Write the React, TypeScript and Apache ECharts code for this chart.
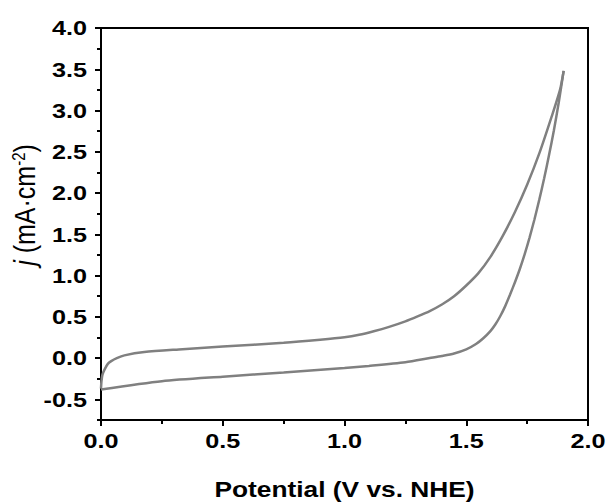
import React, { useEffect, useRef } from "react";
import * as echarts from "echarts";

// Forward (anodic) scan: potential (V vs. NHE), current density (mA·cm-2)
const forwardV = [0.0, 0.002, 0.006, 0.015, 0.028, 0.042, 0.065, 0.096, 0.178, 0.32, 0.5, 0.75, 0.9, 1.0, 1.06, 1.12, 1.18, 1.25, 1.3, 1.35, 1.4, 1.45, 1.5, 1.55, 1.6, 1.65, 1.7, 1.75, 1.8, 1.85, 1.885, 1.9];
const forwardJ = [-0.37, -0.28, -0.2, -0.137, -0.07, -0.036, 0.0, 0.033, 0.073, 0.105, 0.14, 0.185, 0.222, 0.252, 0.282, 0.325, 0.375, 0.445, 0.505, 0.57, 0.65, 0.75, 0.88, 1.03, 1.23, 1.48, 1.77, 2.1, 2.48, 2.92, 3.25, 3.48];

// Reverse (cathodic) scan
const reverseV = [1.9, 1.88, 1.86, 1.84, 1.82, 1.8, 1.78, 1.76, 1.74, 1.72, 1.7, 1.68, 1.66, 1.64, 1.62, 1.6, 1.57, 1.54, 1.5, 1.45, 1.4, 1.35, 1.25, 1.1, 1.0, 0.75, 0.5, 0.25, 0.0];
const reverseJ = [3.48, 3.1, 2.76, 2.46, 2.18, 1.92, 1.68, 1.46, 1.26, 1.08, 0.92, 0.77, 0.63, 0.51, 0.41, 0.33, 0.24, 0.17, 0.105, 0.055, 0.025, 0.0, -0.05, -0.095, -0.12, -0.175, -0.225, -0.28, -0.38];

const xTicks = [0.0, 0.5, 1.0, 1.5, 2.0];
const yMajorTicks = [-0.5, 0.0, 0.5, 1.0, 1.5, 2.0, 2.5, 3.0, 3.5, 4.0];
const yMinorTicks = [-0.75, -0.25, 0.25, 0.75, 1.25, 1.75, 2.25, 2.75, 3.25, 3.75];

const xTitle = "Potential (V vs. NHE)";

const FONT = "'Liberation Sans', Arial, Helvetica, sans-serif";
const STRETCH = 1.2;

export default function App() {
  const ref = useRef<HTMLDivElement>(null);
  useEffect(() => {
    if (!ref.current) return;
    const chart = echarts.init(ref.current, null, { renderer: "svg" });
    const pair = (xs: number[], ys: number[]) => xs.map((x, i) => [x, ys[i]]);
    const axisBlack = { color: "#000", width: 2 };
    chart.setOption({
      animation: false,
      backgroundColor: "#fff",
      grid: {
        left: 101,
        right: 20,
        top: 28,
        bottom: 83,
        show: true,
        borderColor: "#000",
        borderWidth: 2,
        backgroundColor: "transparent",
      },
      xAxis: {
        type: "value",
        min: 0,
        max: 2,
        interval: 0.5,
        axisLine: { show: true, onZero: false, lineStyle: axisBlack },
        axisTick: { show: true, inside: false, length: 6, lineStyle: axisBlack },
        minorTick: { show: true, splitNumber: 2, length: 4, lineStyle: axisBlack },
        splitLine: { show: false },
        axisLabel: { show: false },
      },
      yAxis: [
        {
          type: "value",
          min: -0.75,
          max: 4.0,
          axisLine: { show: true, onZero: false, lineStyle: axisBlack },
          axisTick: { show: true, inside: false, length: 6, customValues: yMajorTicks, lineStyle: axisBlack },
          splitLine: { show: false },
          axisLabel: { show: false },
        },
        {
          type: "value",
          min: -0.75,
          max: 4.0,
          position: "left",
          axisLine: { show: false, onZero: false },
          axisTick: { show: true, inside: false, length: 4, customValues: yMinorTicks, lineStyle: axisBlack },
          splitLine: { show: false },
          axisLabel: { show: false },
        },
      ],
      series: [
        {
          type: "line",
          data: pair(forwardV, forwardJ),
          showSymbol: false,
          smooth: 0.25,
          lineStyle: { color: "#808080", width: 2.5 },
          itemStyle: { color: "#808080" },
        },
        {
          type: "line",
          data: pair(reverseV, reverseJ),
          showSymbol: false,
          smooth: 0.25,
          lineStyle: { color: "#808080", width: 2.5 },
          itemStyle: { color: "#808080" },
        },
      ],
    });

    const tickText = (text: string, x: number, y: number, align: string) => ({
      type: "text",
      x,
      y,
      scaleX: STRETCH,
      style: {
        text,
        fontSize: 21,
        fontWeight: "bold",
        fontFamily: FONT,
        fill: "#000",
        align,
        verticalAlign: "middle",
      },
    });

    const xAxisY = chart.convertToPixel({ yAxisIndex: 0 }, -0.75) as number;
    const yAxisX = chart.convertToPixel({ xAxisIndex: 0 }, 0) as number;

    const graphics: any[] = [];
    xTicks.forEach((v) => {
      const px = chart.convertToPixel({ xAxisIndex: 0 }, v) as number;
      graphics.push(tickText(v.toFixed(1), px, xAxisY + 21, "center"));
    });
    yMajorTicks.forEach((v) => {
      const py = chart.convertToPixel({ yAxisIndex: 0 }, v) as number;
      graphics.push(tickText(v.toFixed(1), yAxisX - 14, py, "right"));
    });
    graphics.push({
      type: "text",
      x: 344.5,
      y: 489,
      scaleX: 1.17,
      style: {
        text: xTitle,
        fontSize: 22.5,
        fontWeight: "bold",
        fontFamily: FONT,
        fill: "#000",
        align: "center",
        verticalAlign: "middle",
      },
    });
    graphics.push({
      type: "text",
      x: 25,
      y: 205,
      rotation: Math.PI / 2,
      scaleY: STRETCH,
      style: {
        text: "{i|j} (mA·cm{s|-2})",
        fontSize: 25,
        fontFamily: FONT,
        fill: "#000",
        align: "center",
        verticalAlign: "middle",
        rich: {
          i: { fontStyle: "italic", fontSize: 25, fontFamily: FONT, fill: "#000" },
          s: { fontSize: 15, fontFamily: FONT, verticalAlign: "top", fill: "#000" },
        },
      },
    });
    chart.setOption({ graphic: graphics });
    return () => chart.dispose();
  }, []);
  return (
    <div
      ref={ref}
      style={{ position: "fixed", left: 0, top: 0, width: 608, height: 503 }}
    />
  );
}
